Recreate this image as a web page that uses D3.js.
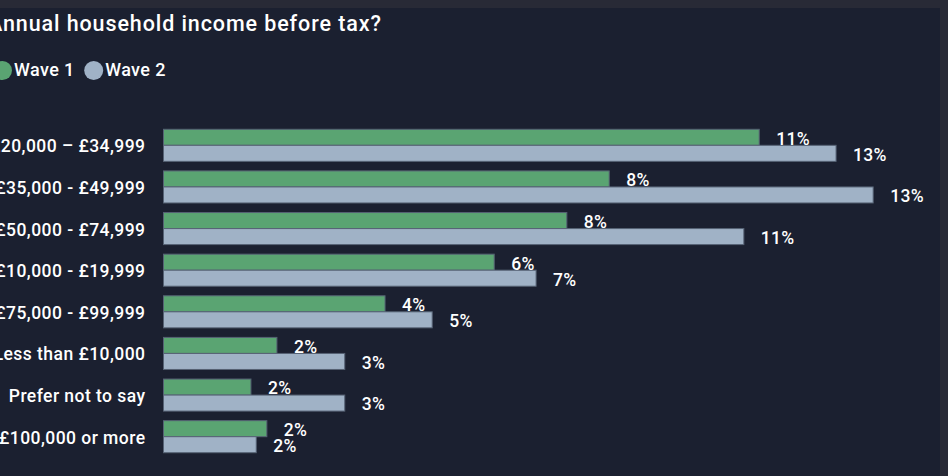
<!DOCTYPE html>
<html>
<head>
<meta charset="utf-8">
<script src="https://cdn.jsdelivr.net/npm/d3@7"></script>
<style>
  html, body { margin: 0; padding: 0; background: #282a36; }
  svg { display: block; }
  text { font-family: Roboto, "DejaVu Sans", sans-serif; fill: #ffffff; }
</style>
</head>
<body>
<svg id="chart" width="948" height="476"></svg>
<script>
// Income bands, sorted by Wave 2 share
const categories = [
  "£20,000 – £34,999",
  "£35,000 - £49,999",
  "£50,000 - £74,999",
  "£10,000 - £19,999",
  "£75,000 - £99,999",
  "Less than £10,000",
  "Prefer not to say",
  "£100,000 or more"
];
const seriesNames = ["Wave 1", "Wave 2"];
// Share of respondents, in percent
const wave1 = [11.24, 8.41, 7.61, 6.24, 4.18, 2.14, 1.65, 1.95];
const wave2 = [12.69, 13.39, 10.95, 7.03, 5.07, 3.42, 3.42, 1.75];
const colors = ["#5aa472", "#a0b2c6"];

const svg = d3.select("#chart");
const W = 948, H = 476;

// page chrome: lighter frame with the dark panel inside
svg.append("rect").attr("width", W).attr("height", H).attr("fill", "#282a36");
svg.append("rect").attr("x", 0).attr("y", 8).attr("width", 940).attr("height", H - 8)
  .attr("fill", "#1b2030");

svg.append("text")
  .attr("x", -12).attr("y", 30.5)
  .attr("font-size", 21.5).attr("font-weight", 500)
  .attr("letter-spacing", 0.9)
  .text("Annual household income before tax?");

// legend
const legend = svg.append("g");
const legendX = [2.5, 93.7];
seriesNames.forEach((name, i) => {
  legend.append("circle").attr("cx", legendX[i]).attr("cy", 70.5).attr("r", 9.5)
    .attr("fill", colors[i]);
  legend.append("text").attr("x", legendX[i] + 11.5).attr("y", 76.3)
    .attr("font-size", 18).attr("font-weight", 500)
    .attr("letter-spacing", 0.4).text(name);
});

const x = d3.scaleLinear().domain([0, 14]).range([163.5, 163.5 + 14 * 53]);
const y = d3.scaleBand().domain(categories).range([124.5, 457.5])
  .paddingInner(0.23).paddingOuter(0.115);
const ySub = d3.scaleBand().domain(seriesNames).range([0, y.bandwidth()]);

const rows = categories.map((c, i) => ({ cat: c, vals: [wave1[i], wave2[i]] }));

// category axis labels
const yAxis = d3.axisLeft(y).tickSize(0).tickPadding(18);
const ga = svg.append("g").attr("transform", `translate(${x(0)},0)`).call(yAxis);
ga.select(".domain").remove();
ga.selectAll("text")
  .attr("font-size", 17.5).attr("font-weight", 500)
  .attr("letter-spacing", 0.45)
  .attr("fill", "#ffffff").attr("dy", "0.4em")
  .style("font-family", "Roboto, 'DejaVu Sans', sans-serif");

const fmt = d => d3.format(".0f")(d) + "%";

const grp = svg.append("g").selectAll("g").data(rows).join("g")
  .attr("transform", d => `translate(0,${y(d.cat)})`);

grp.selectAll("rect").data(d => d.vals.map((v, i) => ({ v, s: seriesNames[i], i })))
  .join("rect")
  .attr("x", x(0))
  .attr("y", d => ySub(d.s))
  .attr("width", d => x(d.v) - x(0))
  .attr("height", ySub.bandwidth())
  .attr("fill", d => colors[d.i])
  .attr("stroke", "#566274").attr("stroke-width", 1);

grp.selectAll("text.val").data(d => d.vals.map((v, i) => ({ v, s: seriesNames[i], i })))
  .join("text").attr("class", "val")
  .attr("x", d => x(d.v) + 17)
  .attr("y", d => ySub(d.s) + ySub.bandwidth() / 2)
  .attr("dy", "0.42em")
  .attr("font-size", 17.5).attr("font-weight", 500)
  .attr("letter-spacing", 0.3)
  .text(d => fmt(d.v));
</script>
</body>
</html>
